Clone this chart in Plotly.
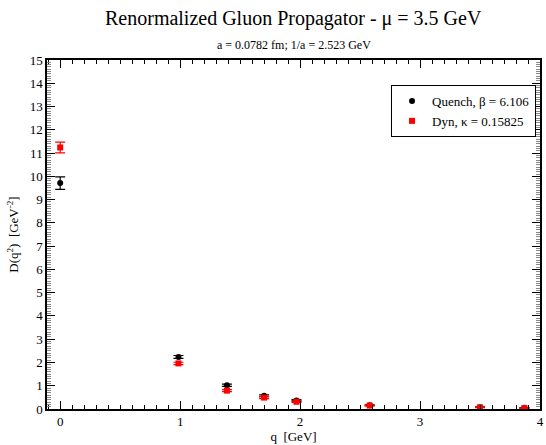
import plotly.graph_objects as go

# Data
q_quench = [0.0, 0.986, 1.39, 1.70, 1.97, 2.58, 3.50, 3.87]
d_quench = [9.71, 2.24, 1.02, 0.57, 0.37, 0.16, 0.08, 0.05]
e_quench = [0.27, 0.06, 0.05, 0.04, 0.03, 0.02, 0.01, 0.01]

q_dyn = [0.0, 0.986, 1.39, 1.70, 1.97, 2.58, 3.50, 3.87]
d_dyn = [11.24, 1.96, 0.79, 0.49, 0.31, 0.15, 0.07, 0.04]
e_dyn = [0.23, 0.05, 0.04, 0.04, 0.03, 0.02, 0.01, 0.01]

x_ticks = [0, 1, 2, 3, 4]
y_ticks = list(range(0, 16))

serif = "Liberation Serif"

M_L, M_R, M_T, M_B = 47, 2, 60, 36
W, H = 546, 445
plot_w = W - M_L - M_R
plot_h = H - M_T - M_B

fig = go.Figure()
fig.add_trace(go.Scatter(
    x=q_quench, y=d_quench, mode="markers",
    name="Quench, \u03b2 = 6.106",
    marker=dict(symbol="circle", size=6, color="black"),
    error_y=dict(type="data", array=e_quench, color="black", thickness=1.2, width=5),
    cliponaxis=False,
))
fig.add_trace(go.Scatter(
    x=q_dyn, y=d_dyn, mode="markers",
    name="Dyn, \u03ba = 0.15825",
    marker=dict(symbol="square", size=6, color="red"),
    error_y=dict(type="data", array=e_dyn, color="red", thickness=1.2, width=5),
    cliponaxis=False,
))

fig.update_layout(
    width=W, height=H,
    font=dict(family=serif, color="black", size=13),
    margin=dict(l=M_L, r=M_R, t=M_T, b=M_B),
    paper_bgcolor="white", plot_bgcolor="white",
    showlegend=True,
    legend=dict(
        x=(540 - M_L) / plot_w, y=(H - M_B - 85) / plot_h,
        xanchor="right", yanchor="top",
        bordercolor="black", borderwidth=1, bgcolor="white",
        font=dict(family=serif, size=13, color="black"),
        tracegroupgap=0,
    ),
    annotations=[
        dict(text="Renormalized Gluon Propagator - \u03bc = 3.5 GeV", x=0.5,
             y=1 + (M_T - 18) / plot_h, yanchor="middle",
             xref="paper", yref="paper", showarrow=False,
             font=dict(family=serif, size=20, color="black")),
        dict(text="a = 0.0782 fm; 1/a = 2.523 GeV", x=0.5,
             y=1 + (M_T - 45) / plot_h, yanchor="middle",
             xref="paper", yref="paper", showarrow=False,
             font=dict(family=serif, size=12, color="black")),
    ],
)

fig.update_xaxes(
    range=[-0.11, 4.0], tickvals=x_ticks, ticktext=[str(t) for t in x_ticks],
    ticks="inside", ticklen=8, tickwidth=1, tickcolor="black",
    showline=True, linecolor="black", linewidth=1.5, mirror="allticks",
    showgrid=False, zeroline=False,
    tickfont=dict(family=serif, size=13, color="black"),
    minor=dict(dtick=0.1, tick0=0, ticks="inside", ticklen=4, tickwidth=1, tickcolor="black", showgrid=False),
    title=dict(text="q  [GeV]", font=dict(family=serif, size=13, color="black"), standoff=2),
)
fig.update_yaxes(
    range=[0, 15], tickvals=y_ticks, ticktext=[str(t) for t in y_ticks],
    ticks="inside", ticklen=8, tickwidth=1, tickcolor="black",
    showline=True, linecolor="black", linewidth=1.5, mirror="allticks",
    showgrid=False, zeroline=False,
    tickfont=dict(family=serif, size=13, color="black"),
    minor=dict(dtick=0.1, ticks="inside", ticklen=4, tickwidth=1, tickcolor="#888", showgrid=False),
    title=dict(text="D(q<sup>2</sup>)  [GeV<sup>-2</sup>]", font=dict(family=serif, size=13, color="black"), standoff=8),
)

fig.write_html("out.html", config={"displayModeBar": False},
               post_script="document.body.style.margin='0';document.body.style.padding='0';")
